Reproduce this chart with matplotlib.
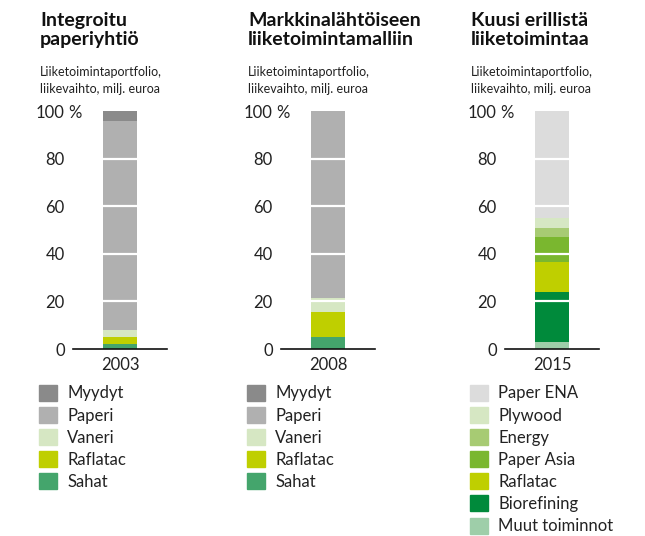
import matplotlib.pyplot as plt
from matplotlib.patches import Patch

plt.rcParams['font.family'] = ['Lato', 'DejaVu Sans']

# data, bottom -> top
titles = ['Integroitu\npaperiyhtiö', 'Markkinalähtöiseen\nliiketoimintamalliin', 'Kuusi erillistä\nliiketoimintaa']
subtitle = 'Liiketoimintaportfolio,\nliikevaihto, milj. euroa'
years = ['2003', '2008', '2015']

labels_old = ['Sahat', 'Raflatac', 'Vaneri', 'Paperi', 'Myydyt']
colors_old = ['#44a56c', '#bfcf00', '#d6e7c3', '#b0b0b0', '#8a8a8a']
vals_2003 = [2, 3, 3, 88, 4]
vals_2008 = [5, 10.5, 6, 78.5, 0]

labels_2015 = ['Muut toiminnot', 'Biorefining', 'Raflatac', 'Paper Asia', 'Energy', 'Plywood', 'Paper ENA']
colors_2015 = ['#9ecea9', '#008a3b', '#bfcf00', '#7ab72f', '#a7cb73', '#d6e7c3', '#dcdcdc']
vals_2015 = [3, 21, 12.5, 10.5, 4, 4, 45]

yticks = [0, 20, 40, 60, 80, 100]

W, H = 645, 536
fig = plt.figure(figsize=(W / 100, H / 100), dpi=100)

panels = [(vals_2003, labels_old, colors_old, 73, 40),
          (vals_2008, labels_old, colors_old, 281, 248),
          (vals_2015, labels_2015, colors_2015, 505, 471)]

for k, (vals, labs, cols, x0, tx) in enumerate(panels):
    ax = fig.add_axes([x0 / W, (H - 349) / H, 94 / W, 238 / H])
    bottom = 0
    handles = []
    for v, lab, c in zip(vals, labs, cols):
        ax.bar(0, v, width=0.37, bottom=bottom, color=c, zorder=1)
        bottom += v
        handles.append(Patch(color=c, label=lab))
    for g in [20, 40, 60, 80]:
        ax.axhline(g, color='white', lw=1.6, zorder=3)
    ax.set_xlim(-0.5, 0.5)
    ax.set_ylim(0, 100)
    ax.set_xticks([0])
    ax.set_xticklabels([years[k]], fontsize=12, color='#222222')
    ax.set_yticks(yticks)
    ax.set_yticklabels([str(t) for t in yticks], fontsize=12, color='#222222')
    ax.tick_params(length=0, pad=6)
    ax.tick_params(axis='x', pad=6)
    for s in ['top', 'right', 'left']:
        ax.spines[s].set_visible(False)
    ax.spines['bottom'].set_color('#111111')
    ax.spines['bottom'].set_linewidth(1.2)
    ax.spines['bottom'].set_zorder(4)
    # percent sign after the 100 label
    ax.text(-5 / 94, 1.0, '%', transform=ax.transAxes, fontsize=12,
            color='#222222', ha='left', va='center_baseline')

    fig.text(tx / W, 1 - 12 / H, titles[k], fontsize=14, fontweight='bold',
             va='top', ha='left', color='#111111', linespacing=1.12)
    fig.text(tx / W, 1 - 66 / H, subtitle, fontsize=9, va='top', ha='left',
             color='#222222', linespacing=1.5)

    leg = fig.legend(handles=handles[::-1], loc='upper left',
                     bbox_to_anchor=(tx / W - 0.012, 1 - 378 / H), frameon=False,
                     fontsize=12, handlelength=1.1, handleheight=1.1,
                     handletextpad=0.6, labelspacing=0.33, borderaxespad=0,
                     labelcolor='#222222')

fig.savefig('out.png', dpi=100)
